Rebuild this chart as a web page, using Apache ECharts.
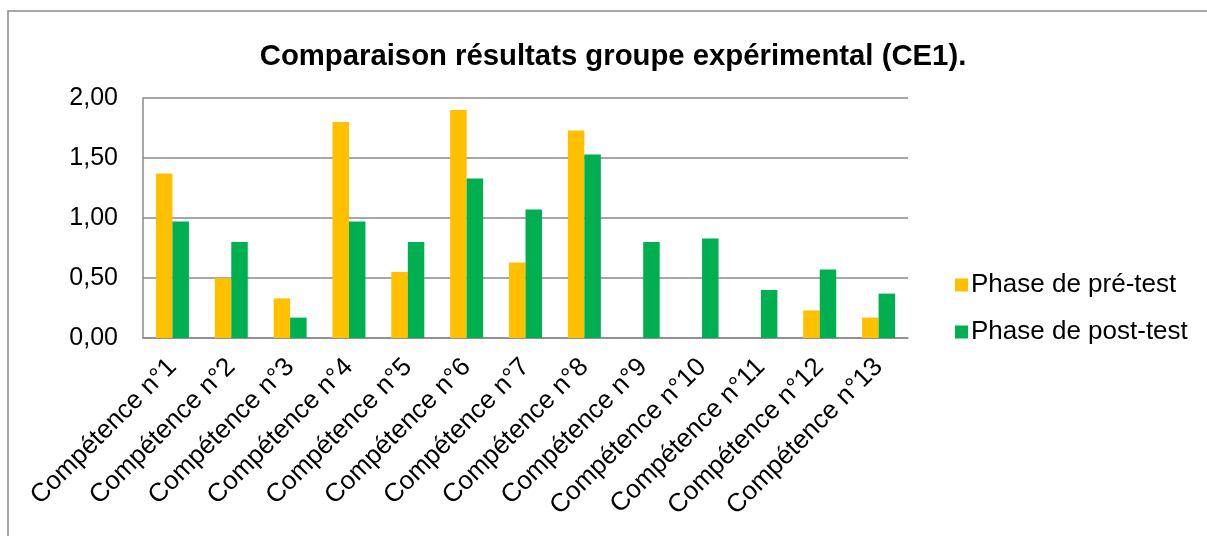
<!DOCTYPE html>
<html>
<head>
<meta charset="utf-8">
<script src="https://cdn.jsdelivr.net/npm/echarts@6/dist/echarts.min.js"></script>
<style>
  html, body { margin: 0; padding: 0; background: #fff; }
  #chart { width: 1207px; height: 536px; }
</style>
</head>
<body>
<div id="chart"></div>
<script>
const categories = [
  'Compétence n°1', 'Compétence n°2', 'Compétence n°3', 'Compétence n°4',
  'Compétence n°5', 'Compétence n°6', 'Compétence n°7', 'Compétence n°8',
  'Compétence n°9', 'Compétence n°10', 'Compétence n°11', 'Compétence n°12',
  'Compétence n°13'
];
const preTest = [1.37, 0.50, 0.33, 1.80, 0.55, 1.90, 0.63, 1.73, 0, 0, 0, 0.23, 0.17];
const postTest = [0.97, 0.80, 0.17, 0.97, 0.80, 1.33, 1.07, 1.53, 0.80, 0.83, 0.40, 0.57, 0.37];
const seriesNames = ['Phase de pré-test', 'Phase de post-test'];

const font = "'Liberation Sans', Arial, sans-serif";
const gridColor = '#8a8a8a';

function formatFr(v) {
  return v.toFixed(2).replace('.', ',');
}

const chart = echarts.init(document.getElementById('chart'));

chart.setOption({
  animation: false,
  backgroundColor: '#fff',
  textStyle: { fontFamily: font, color: '#000' },
  title: {
    text: 'Comparaison résultats groupe expérimental (CE1).',
    left: 608,
    textAlign: 'center',
    top: 37,
    textStyle: { fontFamily: font, fontSize: 29.3, fontWeight: 'bold', color: '#000' }
  },
  graphic: [{
    type: 'rect',
    shape: { x: 8, y: 11, width: 1300, height: 600 },
    style: { fill: 'none', stroke: gridColor, lineWidth: 1.5 },
    silent: true
  }],
  legend: {
    orient: 'vertical',
    left: 950,
    top: 267,
    itemWidth: 13,
    itemHeight: 13,
    itemGap: 21,
    icon: 'rect',
    data: seriesNames,
    textStyle: { fontFamily: font, fontSize: 26, color: '#000', padding: [0, 0, 0, -2] }
  },
  grid: { left: 143, right: 299, top: 98, bottom: 198, outerBoundsMode: 'none' },
  xAxis: {
    type: 'category',
    data: categories,
    axisLine: { lineStyle: { color: gridColor, width: 1.5 } },
    axisTick: { show: false },
    axisLabel: {
      rotate: 45,
      interval: 0,
      margin: 25,
      fontFamily: font,
      fontSize: 26,
      color: '#000'
    }
  },
  yAxis: {
    type: 'value',
    min: 0,
    max: 2,
    interval: 0.5,
    axisLine: { show: true, lineStyle: { color: gridColor, width: 1.5 } },
    axisTick: { show: false },
    splitLine: { lineStyle: { color: gridColor, width: 1.5 } },
    axisLabel: {
      margin: 25,
      fontFamily: font,
      fontSize: 25,
      color: '#000',
      formatter: formatFr
    }
  },
  series: [{
    name: seriesNames[0],
    type: 'bar',
    data: preTest,
    barWidth: 16.5,
    barGap: '0%',
    itemStyle: { color: '#FFC000' }
  }, {
    name: seriesNames[1],
    type: 'bar',
    data: postTest,
    barWidth: 16.5,
    itemStyle: { color: '#00B050' }
  }]
});
</script>
</body>
</html>
